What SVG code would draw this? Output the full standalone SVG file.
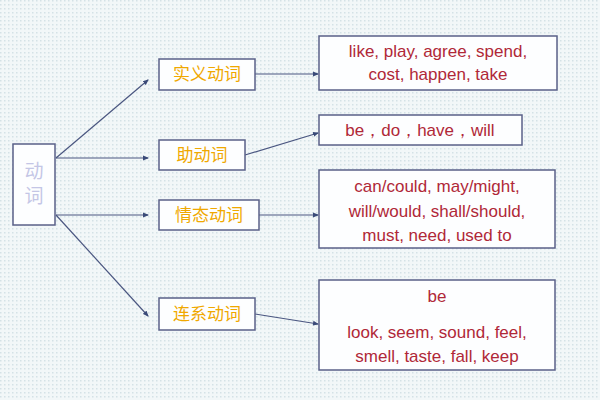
<svg xmlns="http://www.w3.org/2000/svg" width="600" height="400" viewBox="0 0 600 400">
<defs>
<pattern id="dots" width="4" height="4" patternUnits="userSpaceOnUse"><rect width="4" height="4" fill="#f2f7f8"/><rect width="1.5" height="1.5" fill="#d4e2e6"/></pattern>
<marker id="ah" markerWidth="6" markerHeight="6" refX="5" refY="3" orient="auto" markerUnits="userSpaceOnUse"><path d="M0,0.5 L6,3 L0,5.5 Z" fill="#3a4a78"/></marker>
</defs>
<style>
.b{fill:#fdfeff;stroke:#5a6088;stroke-width:1.5}
.c{font-family:"Noto Sans CJK SC",sans-serif;font-size:17px;fill:#f0a800;text-anchor:middle}
.t{font-family:"Liberation Sans",Arial,sans-serif;font-size:17px;fill:#b02838;text-anchor:middle}
.l{stroke:#4a5680;stroke-width:1.2;fill:none;marker-end:url(#ah)}
</style>
<rect width="600" height="400" fill="url(#dots)"/>
<g id="connectors">
<line class="l" x1="56" y1="158" x2="148" y2="80"/>
<line class="l" x1="56" y1="158" x2="148" y2="158"/>
<line class="l" x1="56" y1="215" x2="148" y2="215"/>
<line class="l" x1="56" y1="215" x2="148" y2="316"/>
<line class="l" x1="255" y1="74" x2="318" y2="74"/>
<line class="l" x1="245" y1="155" x2="318" y2="133"/>
<line class="l" x1="259" y1="215" x2="318" y2="215"/>
<line class="l" x1="255" y1="314" x2="318" y2="324"/>
</g>
<g id="root"><rect class="b" x="13" y="144" width="42" height="81"/>
<text x="34" y="178" style="font-family:'Noto Sans CJK SC',sans-serif;font-size:19px;fill:#c4c6e6;text-anchor:middle">动</text>
<text x="34" y="203" style="font-family:'Noto Sans CJK SC',sans-serif;font-size:19px;fill:#c4c6e6;text-anchor:middle">词</text></g>
<g id="n1"><rect class="b" x="159" y="59" width="96" height="31"/><text class="c" x="207" y="80">实义动词</text></g>
<g id="n2"><rect class="b" x="159" y="140" width="86" height="30"/><text class="c" x="202" y="161">助动词</text></g>
<g id="n3"><rect class="b" x="159" y="200" width="100" height="30"/><text class="c" x="209" y="221">情态动词</text></g>
<g id="n4"><rect class="b" x="159" y="298" width="96" height="32"/><text class="c" x="207" y="320">连系动词</text></g>
<g id="r1"><rect class="b" x="319" y="36" width="238" height="54"/><text class="t" x="438" y="57">like, play, agree, spend,</text><text class="t" x="438" y="80">cost, happen, take</text></g>
<g id="r2"><rect class="b" x="319" y="115" width="203" height="30"/><text class="t" x="420" y="136">be，do，have，will</text></g>
<g id="r3"><rect class="b" x="319" y="170" width="236" height="78"/><text class="t" x="437" y="192">can/could, may/might,</text><text class="t" x="437" y="217">will/would, shall/should,</text><text class="t" x="437" y="241">must, need, used to</text></g>
<g id="r4"><rect class="b" x="319" y="280" width="236" height="90"/><text class="t" x="437" y="302">be</text><text class="t" x="437" y="338">look, seem, sound, feel,</text><text class="t" x="437" y="362">smell, taste, fall, keep</text></g>
</svg>
